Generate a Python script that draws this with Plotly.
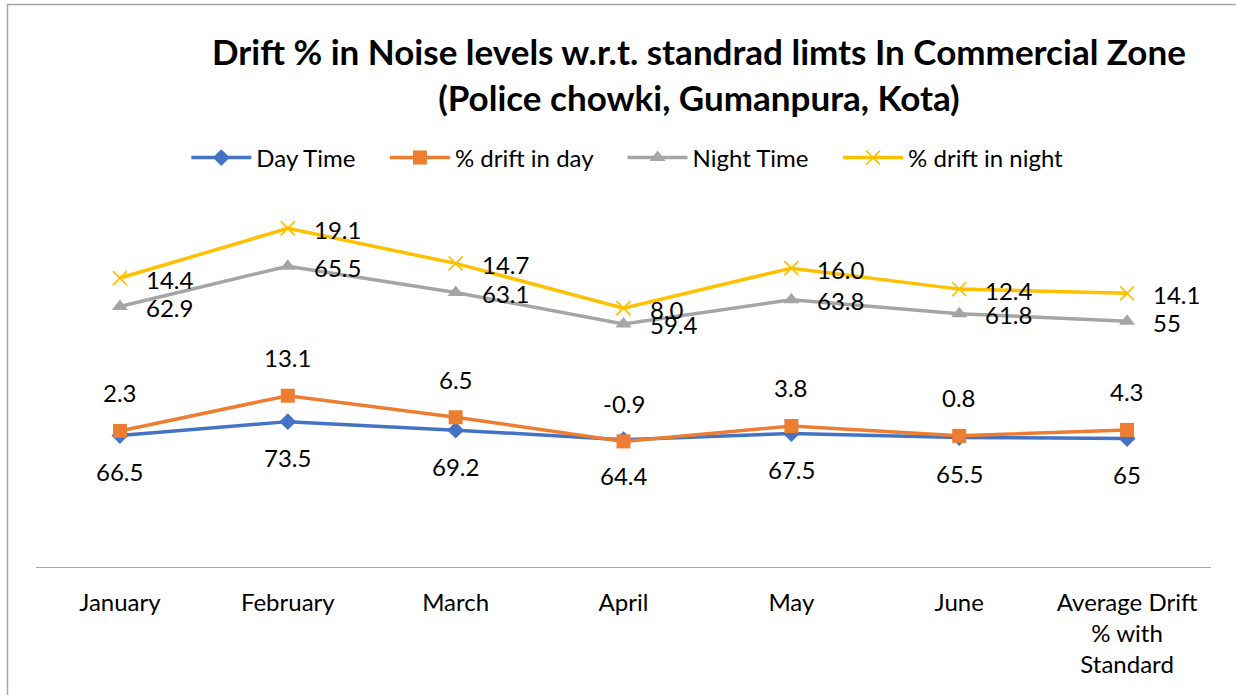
import numpy as np
import plotly.graph_objects as go

months = ["January", "February", "March", "April", "May", "June",
          "Average Drift<br>% with<br>Standard"]
day_time = [66.5, 73.5, 69.2, 64.4, 67.5, 65.5, 65]
drift_day = [2.3, 13.1, 6.5, -0.9, 3.8, 0.8, 4.3]
night_time = [62.9, 65.5, 63.1, 59.4, 63.8, 61.8, 55]
drift_night = [14.4, 19.1, 14.7, 8.0, 16.0, 12.4, 14.1]

FONT = "Lato"
PAD = "\u00a0" * 4

series = [
    ("Day Time", day_time, "#4472C4", dict(symbol="diamond", size=13), "{:g}"),
    ("% drift in day", drift_day, "#ED7D31", dict(symbol="square", size=14), "{:.1f}"),
    ("Night Time", night_time, "#A5A5A5", dict(symbol="triangle-up", size=14), "{:g}"),
    ("% drift in night", drift_night, "#FFC000",
     dict(symbol="x-thin", size=14, line=dict(width=1.8, color="#FFC000")), "{:.1f}"),
]

fig = go.Figure()
for k, (name, vals, color, mk, fmt) in enumerate(series):
    fig.add_trace(go.Scatter(
        x=months, y=vals, name=name + (PAD if k < 3 else ""), mode="lines+markers",
        stackgroup="one", fill="none",
        line=dict(color=color, width=3.5),
        marker=dict(color=color, **mk),
    ))

# stacked positions for the data labels (Excel stacked line chart)
cum = np.cumsum(np.array([day_time, drift_day, night_time, drift_night]), axis=0)
label_style = [
    dict(xanchor="center", yanchor="middle", xshift=0, yshift=-36),
    dict(xanchor="center", yanchor="middle", xshift=0, yshift=38),
    dict(xanchor="left", yanchor="middle", xshift=24, yshift=-1),
    dict(xanchor="left", yanchor="middle", xshift=24, yshift=-1),
]
for i, (name, vals, color, mk, fmt) in enumerate(series):
    for j, m in enumerate(months):
        fig.add_annotation(x=m, y=cum[i][j], text=fmt.format(vals[j]),
                           showarrow=False, font=dict(family=FONT, size=24, color="#000000"),
                           **label_style[i])

fig.add_annotation(
    xref="paper", yref="paper", x=(699 - 36) / 1175, y=(567 - 74) / 356,
    text="<b>Drift % in Noise levels w.r.t. standrad limts In Commercial Zone<br>(Police chowki, Gumanpura, Kota)</b>",
    showarrow=False, xanchor="center", yanchor="middle", align="center",
    font=dict(family=FONT, size=35, color="#000000"),
)

# chart border
fig.add_shape(type="rect", xref="paper", yref="paper",
              x0=(7.5 - 36) / 1175, x1=(1260 - 36) / 1175,
              y0=(567 - 710) / 356, y1=(567 - 4.5) / 356,
              line=dict(color="#A6A6A6", width=1.5))

fig.update_layout(
    width=1236, height=695,
    margin=dict(l=36, r=25, t=211, b=128, autoexpand=False),
    paper_bgcolor="white", plot_bgcolor="white",
    font=dict(family=FONT, size=24, color="#000000"),
    showlegend=True,
    legend=dict(orientation="h", x=622 / 1236, xanchor="center",
                yref="container", y=(695 - 158) / 695, yanchor="middle",
                itemwidth=60, font=dict(size=24), traceorder="normal"),
    xaxis=dict(showline=True, linecolor="#A6A6A6", linewidth=1.2, showgrid=False,
               range=[-0.5, len(months) - 0.5],
               automargin=False, ticks="", ticklabelstandoff=14,
               tickfont=dict(size=24, color="#000000")),
    yaxis=dict(visible=False, range=[0, 180], automargin=False),
)

fig.write_html("out.html", config={"displayModeBar": False},
               post_script="document.body.style.margin='0px';")
